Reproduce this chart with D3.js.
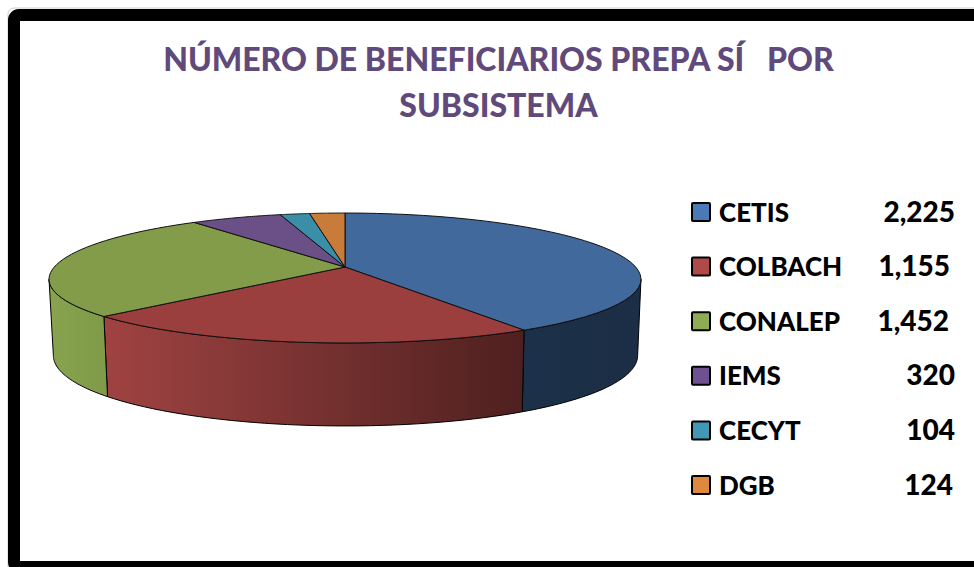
<!DOCTYPE html>
<html><head><meta charset="utf-8">
<script src="https://cdn.jsdelivr.net/npm/d3@7"></script>
<style>html,body{margin:0;padding:0;background:#fff;overflow:hidden}svg{display:block}text{font-family:Lato,sans-serif;font-weight:900}</style>
</head><body><svg id="c" width="974" height="567"></svg>
<script>
const categories = ["CETIS","COLBACH","CONALEP","IEMS","CECYT","DGB"];
const values = [2225,1155,1452,320,104,124];
const valueLabels = ["2,225","1,155","1,452","320","104","124"];
const topColors = ["#41699c","#9a3f3e","#829c49","#6b4f87","#3a8ea8","#c97b39"];
const legendColors = ["#4a7ab5","#b0494a","#8fac52","#6f5191","#4198b5","#de8840"];
const valueRightEdges = [955,950,949,955,955,953];
const titleLines = ["NÚMERO DE BENEFICIARIOS PREPA SÍ   POR","SUBSISTEMA"];

const svg = d3.select("#c");
const W = 974, H = 567;

// frame
svg.append("rect").attr("x",8).attr("y",8).attr("width",W).attr("height",H)
  .attr("rx",6).attr("fill","none").attr("stroke","#ccc").attr("stroke-width",1);
svg.append("rect").attr("x",14).attr("y",15).attr("width",W).attr("height",552)
  .attr("rx",5).attr("fill","#fff").attr("stroke","#000").attr("stroke-width",12);

// title
svg.append("g").selectAll("text").data(titleLines).join("text")
  .attr("x",498.5).attr("y",(d,i)=>71+i*46).attr("text-anchor","middle")
  .attr("fill","#604a7b").attr("font-size",32).style("white-space","pre").text(d=>d);

// perspective pie
const kx = 0.188, ky = 0.169, R = 290.7, S = 63.1, cx = 345, cy = 267;
const topPt = a => { const x=Math.sin(a), y=Math.cos(a); return [cx+R*x/(1+kx*y), cy-S*y/(1+ky*y)]; };
const lowPt = a => { const p=topPt(a); return [345.5+(p[0]-cx)*0.987, 354+(p[1]-278)*1.108]; };
const samples = (a0,a1) => d3.range(0,41).map(i=>a0+(a1-a0)*i/40);
const line = d3.line();

const arcs = d3.pie().sort(null).value(d=>d)(values);
const silL = Math.acos(-kx), silR = 2*Math.PI-silL;

const defs = svg.append("defs");
const grads = [["#1c3049","#1b2e45"],["#a04342","#4e201f"],["#89a44f","#7f9a48"]];
grads.forEach((g,i)=>{
  const lg = defs.append("linearGradient").attr("id","side"+i)
    .attr("gradientUnits","objectBoundingBox").attr("x1",0).attr("x2",1).attr("y1",0).attr("y2",0);
  lg.append("stop").attr("offset",0).attr("stop-color",g[0]);
  lg.append("stop").attr("offset",1).attr("stop-color",g[1]);
});

// outer wall
const sideG = svg.append("g");
arcs.forEach((d,i)=>{
  const a0=Math.max(d.startAngle,silL), a1=Math.min(d.endAngle,silR);
  if(a1<=a0) return;
  const s=samples(a0,a1);
  const pts=s.map(topPt).concat(s.slice().reverse().map(lowPt));
  sideG.append("path").attr("d",line(pts)+"Z").attr("fill",`url(#side${i})`)
    .attr("stroke","#000").attr("stroke-width",1).attr("stroke-linejoin","round");
});

// top slices
const topG = svg.append("g");
topG.selectAll("path").data(arcs).join("path")
  .attr("d",d=>line([[cx,cy]].concat(samples(d.startAngle,d.endAngle).map(topPt)))+"Z")
  .attr("fill",(d,i)=>topColors[i]).attr("stroke","#111").attr("stroke-width",1)
  .attr("stroke-linejoin","round");

// legend
const rowY = d3.scalePoint().domain(categories).range([212,485]);
const lg = svg.append("g").selectAll("g").data(categories).join("g")
  .attr("transform",d=>`translate(0,${rowY(d)})`);
lg.append("rect").attr("x",692).attr("y",-9).attr("width",18).attr("height",18)
  .attr("fill",(d,i)=>legendColors[i]).attr("stroke","#000").attr("stroke-width",2).attr("rx",1);
lg.append("text").attr("x",719).attr("y",9.5).attr("font-size",26).attr("fill","#000").text(d=>d);
lg.append("text").attr("x",(d,i)=>valueRightEdges[i]).attr("y",9.5).attr("text-anchor","end")
  .attr("font-size",28).attr("fill","#000").text((d,i)=>valueLabels[i]);
</script></body></html>
